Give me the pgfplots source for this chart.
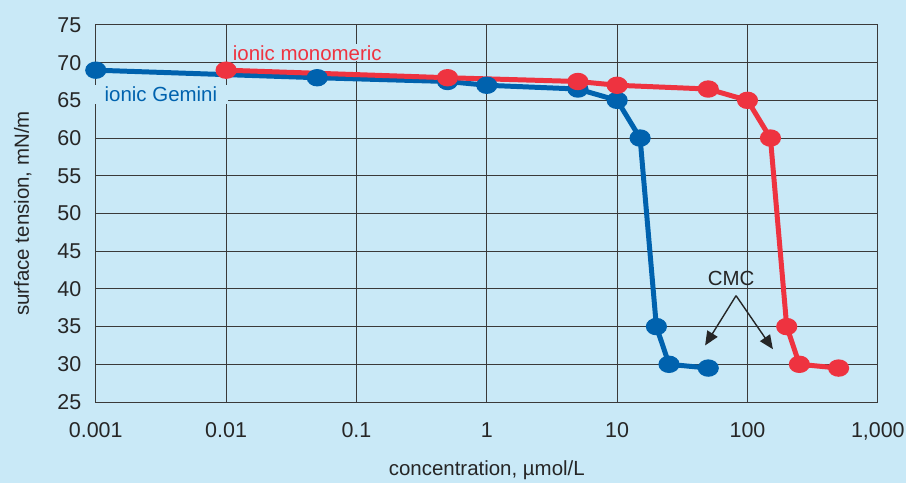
\documentclass[border=0pt]{standalone}
\usepackage{pgfplots}
\pgfplotsset{compat=1.18}
\usepackage{fontspec}
\setmainfont{Liberation Sans}
\usetikzlibrary{arrows.meta}
\definecolor{bgc}{HTML}{C9E9F7}
\definecolor{gem}{HTML}{0062AE}
\definecolor{mono}{HTML}{EE3340}
\definecolor{gridc}{HTML}{3A3A3A}
\begin{document}
\begin{tikzpicture}
\fill[bgc] (-96pt,-81pt) rectangle (812pt,403pt);
\begin{axis}[
  at={(0,0)}, anchor=south west,
  scale only axis, width=784pt, height=378pt,
  xmode=log, xmin=0.001, xmax=1000, ymin=25, ymax=75,
  xtick={0.001,0.01,0.1,1,10,100,1000},
  xticklabels={0.001,0.01,0.1,1,10,100,{1,000}},
  ytick={25,30,...,75},
  minor xtick={}, 
  log ticks with fixed point,
  grid=major,
  major grid style={gridc, line width=0.9pt},
  axis line style={gridc, line width=1pt},
  major tick length=0pt, minor tick length=0pt,
  /pgf/number format/assume math mode=true,
  tick label style={font=\fontsize{21.5}{24}\selectfont, text=black!85},
  yticklabel style={xshift=-11pt},
  xticklabel style={yshift=-17pt},
  xlabel={concentration, µmol/L},
  ylabel={surface tension, mN/m},
  label style={font=\fontsize{20.5}{24}\selectfont, text=black!85},
  xlabel style={yshift=-14pt},
  ylabel style={yshift=19pt},
  clip=false,
]
\addplot[gem, line width=5pt, mark=*, mark size=6.2pt, mark options={xscale=1.3, solid}] coordinates {
 (0.001,69) (0.05,68) (0.5,67.5) (1,67) (5,66.5) (10,65) (15,60) (20,35) (25,30) (50,29.5)};
\addplot[mono, line width=5pt, mark=*, mark size=6.2pt, mark options={xscale=1.3, solid}] coordinates {
 (0.01,69) (0.5,68) (5,67.5) (10,67) (50,66.5) (100,65) (150,60) (200,35) (250,30) (500,29.5)};
\node[fill=bgc, inner xsep=11pt, inner ysep=2pt, text=gem, font=\fontsize{20.5}{24}\selectfont] at (axis cs:0.00316,65.8) {ionic Gemini};
\node[fill=bgc, anchor=south west, inner xsep=6pt, inner ysep=1pt, text=mono, font=\fontsize{20.5}{24}\selectfont] at (axis cs:0.0101,70.15) {ionic monomeric};
\node[font=\fontsize{20.5}{24}\selectfont, text=black!85] at (axis cs:74.8,41.4) {CMC};
\draw[black!85, line width=1.4pt, -{Triangle[length=14pt, width=12pt]}] (axis cs:81.7,39.1) -- (axis cs:47.3,32.5);
\draw[black!85, line width=1.4pt, -{Triangle[length=14pt, width=12pt]}] (axis cs:81.7,39.1) -- (axis cs:156.7,32.0);
\end{axis}
\end{tikzpicture}
\end{document}
